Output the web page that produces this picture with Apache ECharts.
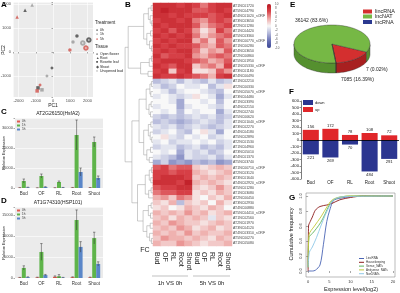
<!DOCTYPE html>
<html>
<head>
<meta charset="utf-8">
<script src="https://cdn.jsdelivr.net/npm/echarts@6/dist/echarts.min.js"></script>
<style>
html,body{margin:0;padding:0;background:#fff}
#main{width:400px;height:293px}
</style>
</head>
<body>
<div id="main"></div>
<script>
var FONT = 'Liberation Sans, Arial, sans-serif';

// ---- A: PCA ----
var pcaTissues = ['Open flower', 'Root', 'Rosette leaf', 'Shoot', 'Unopened bud'];
var pcaTreatments = ['0h', '1h', '5h'];
// [PC1, PC2, tissue index, treatment index]
var pcaPoints = [
  [-1620, 1750, 1, 0], [-1210, 1960, 1, 1], [-2080, 1460, 1, 2],
  [1390, 670, 0, 0], [1160, 420, 0, 1], [980, 80, 0, 2],
  [2080, 500, 4, 0], [1730, 375, 4, 1], [1910, 170, 4, 2],
  [-60, -670, 3, 0], [-350, -1000, 3, 1], [-750, -1375, 3, 2],
  [-870, -1500, 2, 0], [-640, -1580, 2, 1], [-920, -1625, 2, 2]
];

// ---- C / D: qPCR bars ----
var tissues = ['Bud', 'OF', 'RL', 'Root', 'Shoot'];
var treatments = ['0h', '1h', '5h'];
var hsfa2 = [[150, 100, 120, 200, 180], [3500, 6000, 3000, 26500, 23000], [300, 500, 200, 8000, 5000]];
var hsfa2Err = [[50, 40, 40, 80, 60], [1000, 1000, 500, 7500, 2500], [100, 150, 80, 2000, 1000]];
var hsp101 = [[100, 150, 300, 200, 150], [2400, 6200, 400, 13800, 9500], [200, 700, 100, 7400, 3350]];
var hsp101Err = [[40, 50, 200, 80, 60], [500, 2000, 400, 2400, 1400], [80, 150, 50, 1250, 500]];

// ---- B: heatmap ----
var hmColumns = ['Bud', 'OF', 'RL', 'Root', 'Shoot', 'Bud', 'OF', 'RL', 'Root', 'Shoot'];
var geneNames = ['AT1NC01720', 'AT5NC04790', 'AT4NC01020_sORF', 'AT3NC03650', 'AT2NC01280', 'AT1NC04420', 'AT5NC03360', 'AT3NC00770_sORF', 'AT1NC00280', 'AT4NC03650', 'AT2NC00860', 'AT5NC01950', 'AT1NC05330_sORF', 'AT3NC01180', 'AT4NC00490',
  'AT1NC02210', 'AT2NC00330', 'AT5NC05070_sORF', 'AT3NC04480', 'AT1NC03390', 'AT4NC02150', 'AT2NC02740', 'AT5NC00620', 'AT1NC01040_sORF', 'AT3NC02270', 'AT4NC04180', 'AT5NC02890', 'AT2NC01530', 'AT1NC04960', 'AT3NC05010', 'AT4NC01370', 'AT5NC03740',
  'AT1NC00710_sORF', 'AT2NC03120', 'AT3NC01640', 'AT4NC02920_sORF', 'AT5NC01280', 'AT1NC03080', 'AT2NC00450', 'AT3NC02930', 'AT4NC00880', 'AT5NC04410_sORF', 'AT1NC02560', 'AT2NC01970', 'AT3NC04120', 'AT4NC03310_sORF', 'AT5NC00270', 'AT1NC05080'];
var hmValues = [
  [8, 8, 8, 7, 8, 7, 5, 7, 8, 8],
  [8, 9, 8, 8, 8, 6, 6, 7, 8, 7],
  [8, 8, 7, 8, 7, 7, 7, 6, 7, 8],
  [7, 8, 8, 7, 8, 5, 4, 6, 7, 6],
  [8, 7, 8, 8, 8, 6, 3, 5, 6, 7],
  [7, 8, 6, 8, 7, 4, 1, 3, 7, 5],
  [8, 7, 8, 7, 8, 5, 2, 4, 5, 6],
  [7, 8, 7, 8, 8, 3, 5, 2, 6, 4],
  [8, 7, 8, 7, 7, 6, 4, 3, 6, 5],
  [7, 8, 7, 8, 8, 5, 2, 4, 3, 6],
  [8, 6, 7, 7, 8, 4, 3, 5, 6, 5],
  [7, 8, 8, 8, 7, 6, 5, 3, 4, 6],
  [8, 7, 6, 8, 8, 2, 4, 5, 3, 7],
  [7, 8, 2, 7, 8, 1, 1, 2, 6, 4],
  [8, 7, 7, 8, 7, 6, 5, 3, 7, 8],
  [-3, -2, -1, -3, -1, -2, -3, -1, -3, -2],
  [-1, -3, -2, 0, -1, -1, 0, -3, -1, 1],
  [0, -1, -3, -1, 0, 0, -1, -2, -3, 0],
  [-1, 0, -1, -2, -1, 1, 0, -1, -4, -1],
  [0, 0, -1, -4, 0, 0, -1, 0, -3, 0],
  [-1, 0, 0, -4, -1, 0, 0, -1, -2, 0],
  [0, -1, 0, -3, 0, -1, 0, 0, -4, -1],
  [-2, -3, -2, -3, -2, -1, -2, -1, -3, -2],
  [-3, -2, -3, -4, -3, -2, -1, -2, -3, -1],
  [-1, -2, -1, -3, -2, -1, -2, -3, -2, -1],
  [-2, -1, 0, -2, -3, 0, 1, -1, -4, 0],
  [0, 1, -1, -2, 0, -1, 0, -2, -1, 0],
  [-1, 0, -2, -1, -1, 0, -1, 0, -2, -1],
  [-2, -1, -1, -3, -2, -1, -3, -2, -3, -1],
  [0, -1, 0, -4, -1, -2, -1, -3, -2, 0],
  [-1, -2, -3, -5, -1, -2, -2, -1, -3, -1],
  [-4, -2, -5, -4, -5, -3, -4, -3, -5, -4],
  [6, 7, 5, 6, 6, 2, 1, 2, 3, 2],
  [7, 7, 6, 7, 7, 3, 2, 1, 2, 3],
  [7, 8, 8, 8, 7, 2, 3, 2, 3, 2],
  [8, 8, 8, 7, 9, 3, 2, 3, 2, 1],
  [6, 7, 7, 8, 8, 2, 1, 2, 4, 2],
  [5, 6, 6, 7, 7, 1, 2, 1, 3, 2],
  [3, 4, 2, 5, 4, 1, 0, 2, 1, 3],
  [2, 1, 3, -3, 2, 1, 2, 0, 3, 1],
  [1, 2, 0, 1, 3, 2, 1, 3, 2, 0],
  [3, 2, 3, 2, 4, 2, 3, 1, 2, 3],
  [2, 3, 1, 3, 2, 3, 2, -1, 2, 1],
  [3, 2, 4, 3, 2, 2, 1, 2, 3, 2],
  [2, 3, 2, 4, 3, 1, 2, 3, 1, 2],
  [3, 2, 3, 2, 4, 2, 3, 2, 2, 3],
  [2, 4, 3, 3, 2, 3, 2, 1, 3, 2],
  [3, 2, 2, 4, 3, 2, 1, 2, 2, 3]
];
// dendrogram: [height, left, right], leaves are row indices
var hmTree = [9,
  [8,
    [3, [1.5, [0.6, 0, 1], [0.9, 2, [0.4, 3, 4]]], [2, [0.8, 5, 6], [1.1, 7, [0.5, 8, 9]]]],
    [4, [1.2, [0.5, 10, 11], 12], [1.6, 13, 14]]],
  [6.8,
    [4.5, [2.2, [1, [0.5, 15, 16], [0.7, 17, 18]], [1.3, [0.6, 19, 20], [0.8, 21, 22]]],
      [3, [1.5, [0.7, 23, 24], [0.9, 25, [0.4, 26, 27]]], [2, [0.8, 28, 29], [1.2, 30, 31]]]],
    [5, [2.5, [1.2, [0.5, 32, 33], [0.7, 34, 35]], [1.4, [0.6, 36, 37], 38]],
      [3.2, [1.5, [0.6, 39, 40], [0.8, 41, 42]], [2, [0.9, 43, 44], [1.1, 45, [0.5, 46, 47]]]]]]
];

// ---- E: lncRNA classes ----
var rnaTypes = ['lincRNA', 'lncNAT', 'incRNA'];
var rnaCounts = [7085, 36142, 7];
var rnaPctText = ['16.39%', '83.6%', '0.02%'];

// ---- F: up / down ----
var upCounts = [156, 172, 78, 108, 72];
var downCounts = [221, 269, 70, 484, 291];

// ---- G: cumulative frequency ----
var cdfNames = ['LincRNA', 'Housekeeping', 'Sense_NATs', 'Antisense_NATs', 'Non-NATs'];
var cdfLinc = [[0, 0], [1, 0], [1.7, 0.01], [2.8, 0.08], [3.6, 0.35], [4.4, 0.66], [5.2, 0.83], [6, 0.94], [7.5, 0.97], [10, 0.99], [13, 1], [20, 1]];
var cdfHouse = [[0, 0], [0.1, 0.6], [0.5, 0.66], [1, 0.72], [1.7, 0.81], [2.8, 0.86], [4.4, 0.88], [5.6, 0.9], [7.5, 0.95], [10, 0.98], [13, 1], [20, 1]];
var cdfSense = [[0, 0.05], [0.2, 0.45], [1, 0.5], [2, 0.57], [3, 0.65], [4, 0.76], [5, 0.88], [6, 0.95], [8, 0.99], [10, 1], [20, 1]];
var cdfAnti = [[0, 0.05], [0.2, 0.48], [1.5, 0.6], [3, 0.72], [4.5, 0.86], [5.5, 0.94], [7, 0.98], [10, 1], [20, 1]];
var cdfNon = [[0, 0.05], [0.3, 0.25], [1, 0.32], [2, 0.45], [3, 0.6], [4, 0.74], [5, 0.86], [6, 0.95], [8, 0.99], [20, 1]];

var treatColors = ['#e15a50', '#5fb44a', '#5a86c8'];
var pcaColors = ['#444', '#999', '#d0504a'];
var pcaSymbols = ['circle', 'triangle', 'rect', 'diamond', 'emptyCircle'];
var rnaColors = ['#d42f2f', '#76b845', '#2b3990'];
var rnaSide = ['#a82020', '#55902f', '#1c2670'];
var cdfColors = ['#4a64b4', '#8b1a1a', '#5db35d', '#c2c83a', '#8ec8e8'];
var BAR_W = 4;

var axisTxt = { fontSize: 4, color: '#4d4d4d', fontFamily: FONT };

function noMinMax(step) {
  return function (v) { return Math.abs(v % step) < 1e-6 ? v : ''; };
}

// scatter series per tissue
var pcaSeries = pcaTissues.map(function (t, ti) {
  return {
    type: 'scatter', name: t, xAxisIndex: 0, yAxisIndex: 0,
    symbol: pcaSymbols[ti], symbolSize: 3.5,
    data: pcaPoints.filter(function (p) { return p[2] === ti; }).map(function (p) {
      return { value: [p[0], p[1]], itemStyle: { color: pcaColors[p[3]] } };
    })
  };
});

function barSeries(vals, axis) {
  return treatments.map(function (t, s) {
    return {
      type: 'bar', name: t, xAxisIndex: axis, yAxisIndex: axis,
      barWidth: BAR_W, barGap: '0%', data: vals[s],
      itemStyle: { color: treatColors[s] }
    };
  });
}

function errData(vals, errs) {
  var out = [];
  vals.forEach(function (row, s) {
    row.forEach(function (v, c) { out.push([c, v, errs[s][c], s]); });
  });
  return out;
}

function renderErr(params, api) {
  var c = api.value(0), v = api.value(1), e = api.value(2), s = api.value(3);
  var hi = api.coord([c, v + e]);
  var lo = api.coord([c, Math.max(0, v - e)]);
  var x = hi[0] + (s - 1) * BAR_W;
  var st = { stroke: '#333', lineWidth: 0.5 };
  return {
    type: 'group', children: [
      { type: 'line', shape: { x1: x, y1: hi[1], x2: x, y2: lo[1] }, style: st },
      { type: 'line', shape: { x1: x - 1.2, y1: hi[1], x2: x + 1.2, y2: hi[1] }, style: st }
    ]
  };
}

// heatmap cells
var hmData = [];
hmValues.forEach(function (row, r) {
  row.forEach(function (v, c) { hmData.push([c, r, v]); });
});

// dendrogram merges
var merges = [];
function walk(n) {
  if (typeof n === 'number') return { y: n, h: 0 };
  var a = walk(n[1]), b = walk(n[2]);
  merges.push([n[0], a.y, a.h, b.y, b.h]);
  return { y: (a.y + b.y) / 2, h: n[0] };
}
walk(hmTree);

// pie angles (clockwise from -25deg): lincRNA, incRNA, lncNAT
var pieOrder = [0, 2, 1];
var rnaTotal = rnaCounts.reduce(function (a, b) { return a + b; }, 0);
var sliceStart = [], sliceEnd = [];
var ang = -25 * Math.PI / 180;
pieOrder.forEach(function (i) {
  sliceStart[i] = ang;
  ang -= rnaCounts[i] / rnaTotal * Math.PI * 2;
  sliceEnd[i] = ang;
});

function renderPie(params, api) {
  var i = params.dataIndex;
  var cx = 332, cy = 44, rx = 38, ry = 19, dep = 10;
  var a0 = sliceStart[i], a1 = sliceEnd[i];
  var n = Math.max(2, Math.ceil((a0 - a1) / 0.04));
  function pt(a, dy) { return [cx + rx * Math.cos(a), cy - ry * Math.sin(a) + dy]; }
  var children = [];
  var run = [];
  function flush() {
    if (run.length > 1) {
      var pts = run.map(function (a) { return pt(a, 0); })
        .concat(run.slice().reverse().map(function (a) { return pt(a, dep); }));
      children.push({ type: 'polygon', shape: { points: pts }, style: { fill: rnaSide[i], stroke: '#333', lineWidth: 0.4 } });
    }
    run = [];
  }
  var top = [[cx, cy]];
  for (var k = 0; k <= n; k++) {
    var a = a0 + (a1 - a0) * k / n;
    top.push(pt(a, 0));
    if (Math.sin(a) < 0.001) run.push(a); else flush();
  }
  flush();
  children.push({ type: 'polygon', shape: { points: top }, style: { fill: rnaColors[i], stroke: '#333', lineWidth: 0.4 } });
  return { type: 'group', children: children };
}

function txt(x, y, s, size, opt) {
  opt = opt || {};
  return {
    type: 'text', x: x, y: y, rotation: opt.rot || 0, silent: true,
    style: {
      text: s, fill: opt.color || '#222',
      font: (opt.bold ? 'bold ' : '') + size + 'px ' + FONT,
      textAlign: opt.align || 'left', textVerticalAlign: opt.va || 'middle'
    }
  };
}

var graphics = [];
// panel letters
[['A', 1, 1], ['B', 125, 1], ['C', 1, 108], ['D', 1, 197], ['E', 290, 1], ['F', 289, 88], ['G', 289, 194]].forEach(function (l) {
  graphics.push(txt(l[1], l[2], l[0], 8, { bold: true, va: 'top', color: '#000' }));
});
// A labels + legend
graphics.push(txt(53, 106, 'PC1', 5, { align: 'center' }));
graphics.push(txt(4, 50, 'PC2', 5, { align: 'center', rot: Math.PI / 2 }));
graphics.push(txt(95, 23, 'Treatment', 4.5));
pcaTreatments.forEach(function (t, i) {
  graphics.push(txt(96, 30 + i * 4.5, '\u25CF', 3.5, { color: pcaColors[i] }));
  graphics.push(txt(100, 30 + i * 4.5, t, 3.5));
});
graphics.push(txt(95, 47, 'Tissue', 4.5));
var tissueGlyph = ['\u25CF', '\u25B2', '\u25A0', '\u25C6', '\u25CB'];
pcaTissues.forEach(function (t, i) {
  graphics.push(txt(96, 54 + i * 4.2, tissueGlyph[i], 3.5, { color: '#555' }));
  graphics.push(txt(100, 54 + i * 4.2, t, 3.5));
});
// C / D titles
graphics.push(txt(58, 114, 'AT2G26150(HsfA2)', 5, { align: 'center' }));
graphics.push(txt(58, 203, 'AT1G74310(HSP101)', 5, { align: 'center' }));
graphics.push(txt(4, 153, 'Relative Expression', 3.8, { align: 'center', rot: Math.PI / 2 }));
graphics.push(txt(4, 243, 'Relative Expression', 3.8, { align: 'center', rot: Math.PI / 2 }));
// B bottom
graphics.push(txt(145, 250, 'FC', 7, { align: 'center' }));
graphics.push({ type: 'line', shape: { x1: 152, y1: 276, x2: 188, y2: 276 }, style: { stroke: '#999', lineWidth: 0.6 } });
graphics.push({ type: 'line', shape: { x1: 193, y1: 276, x2: 230, y2: 276 }, style: { stroke: '#999', lineWidth: 0.6 } });
graphics.push(txt(170, 283, '1h VS 0h', 6, { align: 'center' }));
graphics.push(txt(212, 283, '5h VS 0h', 6, { align: 'center' }));
// E legend + labels
rnaTypes.forEach(function (t, i) {
  var y = [9.5, 14.5, 20][i];
  graphics.push({ type: 'rect', shape: { x: 363, y: y, width: 9, height: 4 }, style: { fill: rnaColors[i] } });
  graphics.push(txt(375, y + 2, t, 5.5));
});
graphics.push(txt(295, 21, rnaCounts[1] + ' (' + rnaPctText[1] + ')', 5));
graphics.push(txt(366, 70, rnaCounts[2] + ' (' + rnaPctText[2] + ')', 5));
graphics.push(txt(341, 80, rnaCounts[0] + ' (' + rnaPctText[0] + ')', 5));
// G axis names
graphics.push(txt(351, 289, 'Expression level(log2)', 5.5, { align: 'center' }));
graphics.push(txt(291, 234, 'Cumulative frequency', 5.5, { align: 'center', rot: Math.PI / 2 }));

var ggSplit = { show: true, lineStyle: { color: '#fff', width: 0.6 } };

var option = {
  animation: false,
  backgroundColor: '#fff',
  textStyle: { fontFamily: FONT },
  grid: [
    { left: 13, top: 2, width: 80, height: 95, show: true, backgroundColor: '#ebebeb', borderWidth: 0, outerBoundsMode: 'none' },
    { left: 15, top: 118, width: 88, height: 70, show: true, backgroundColor: '#ebebeb', borderWidth: 0, outerBoundsMode: 'none' },
    { left: 15, top: 207, width: 88, height: 71, show: true, backgroundColor: '#ebebeb', borderWidth: 0, outerBoundsMode: 'none' },
    { left: 153, top: 3, width: 79, height: 243, outerBoundsMode: 'none' },
    { left: 122, top: 3, width: 31, height: 243, outerBoundsMode: 'none' },
    { left: 271, top: 4, width: 1, height: 44, outerBoundsMode: 'none' },
    { left: 301, top: 101, width: 98, height: 78, outerBoundsMode: 'none' },
    { left: 306, top: 193, width: 89, height: 84, show: true, borderColor: '#777', borderWidth: 0.5, outerBoundsMode: 'none' }
  ],
  xAxis: [
    { gridIndex: 0, type: 'value', min: -2320, max: 2320, axisLine: { show: false }, axisTick: { length: 1.5, lineStyle: { color: '#555', width: 0.5 } },
      axisLabel: Object.assign({ formatter: noMinMax(1000), margin: 2 }, axisTxt), splitLine: ggSplit },
    { gridIndex: 1, type: 'category', data: tissues, axisLine: { show: false }, axisTick: { show: false },
      axisLabel: { fontSize: 4.5, color: '#333', margin: 3 } },
    { gridIndex: 2, type: 'category', data: tissues, axisLine: { show: false }, axisTick: { show: false },
      axisLabel: { fontSize: 4.5, color: '#333', margin: 3 } },
    { gridIndex: 3, type: 'category', data: hmColumns.map(function (c, i) { return c + '|' + i; }),
      axisLine: { show: false }, axisTick: { show: false },
      axisLabel: { rotate: -90, fontSize: 7, color: '#222', margin: 6, interval: 0, formatter: function (v) { return v.split('|')[0]; } } },
    { gridIndex: 4, type: 'value', min: 0, max: 10, inverse: true, show: false },
    { gridIndex: 5, type: 'value', show: false },
    { gridIndex: 6, type: 'category', data: tissues, axisLine: { show: false, onZero: false }, axisTick: { show: false },
      axisLabel: { fontSize: 4.5, color: '#222', margin: 1, interval: 0 } },
    { gridIndex: 7, type: 'value', min: -0.5, max: 20.5, splitLine: { show: false },
      axisLine: { show: false },
      axisTick: { customValues: [0, 5, 10, 15, 20], length: 2, lineStyle: { color: '#555', width: 0.5 } },
      axisLabel: { customValues: [0, 5, 10, 15, 20], fontSize: 4, color: '#333', margin: 3 } }
  ],
  yAxis: [
    { gridIndex: 0, type: 'value', min: -1880, max: 2090, axisLine: { show: false }, axisTick: { length: 1.5, lineStyle: { color: '#555', width: 0.5 } },
      axisLabel: Object.assign({ formatter: noMinMax(1000), margin: 2 }, axisTxt), splitLine: ggSplit },
    { gridIndex: 1, type: 'value', min: 0, max: 35000, interval: 10000, axisLine: { show: false }, axisTick: { show: true, length: 1.5, lineStyle: { color: '#555', width: 0.5 } },
      axisLabel: Object.assign({ formatter: noMinMax(10000), margin: 2 }, axisTxt), splitLine: ggSplit },
    { gridIndex: 2, type: 'value', min: 0, max: 16900, interval: 5000, axisLine: { show: false }, axisTick: { show: true, length: 1.5, lineStyle: { color: '#555', width: 0.5 } },
      axisLabel: Object.assign({ formatter: noMinMax(5000), margin: 2 }, axisTxt), splitLine: ggSplit },
    { gridIndex: 3, type: 'category', data: geneNames, inverse: true, position: 'right',
      axisLine: { show: false }, axisTick: { show: false },
      axisLabel: { fontSize: 3.5, color: '#444', margin: 1, interval: 0 } },
    { gridIndex: 4, type: 'value', min: -0.5, max: 47.5, inverse: true, show: false },
    { gridIndex: 5, type: 'value', min: -10, max: 10, interval: 2, position: 'right',
      axisLine: { show: false }, axisTick: { show: false }, splitLine: { show: false },
      axisLabel: { fontSize: 3, color: '#555', margin: 3 } },
    { gridIndex: 6, type: 'value', min: -600, max: 600, interval: 100,
      axisLine: { show: true, lineStyle: { color: '#222', width: 0.6 } },
      axisTick: { show: true, length: 1.5, lineStyle: { color: '#222', width: 0.5 } },
      splitLine: { show: false }, axisLabel: { fontSize: 4.2, color: '#222', margin: 2 } },
    { gridIndex: 7, type: 'value', min: -0.08, max: 1.04, splitLine: { show: false },
      axisLine: { show: false },
      axisTick: { customValues: [0, 0.2, 0.4, 0.6, 0.8, 1], length: 2, lineStyle: { color: '#555', width: 0.5 } },
      axisLabel: { customValues: [0, 0.2, 0.4, 0.6, 0.8, 1], rotate: 90, fontSize: 4, color: '#333', margin: 3,
        formatter: function (v) { return v.toFixed(1); } } }
  ],
  visualMap: [{
    type: 'continuous', min: -10, max: 10, seriesIndex: 5, calculable: false,
    left: 267, top: 4, itemWidth: 4, itemHeight: 44, padding: 0, text: null, showLabel: false,
    inRange: { color: ['#3a4696', '#6a73b5', '#b3b8da', '#f8f8f8', '#eeaaa8', '#d9444a', '#b8141e'] }
  }],
  legend: [
    { data: treatments, orient: 'vertical', left: 17, top: 120, itemWidth: 3, itemHeight: 2, itemGap: 1, padding: 0,
      icon: 'rect', textStyle: { fontSize: 3, color: '#333', padding: [0, 0, 0, -3] } },
    { data: treatments, orient: 'vertical', left: 17, top: 209, itemWidth: 3, itemHeight: 2, itemGap: 1, padding: 0,
      icon: 'rect', textStyle: { fontSize: 3, color: '#333', padding: [0, 0, 0, -3] } },
    { data: ['down', 'up'], orient: 'vertical', left: 303, top: 100, itemWidth: 10, itemHeight: 5, itemGap: 2, padding: 0,
      icon: 'rect', textStyle: { fontSize: 4, color: '#222', padding: [0, 0, 0, -3] } },
    { data: cdfNames, orient: 'vertical', left: 359, top: 257, itemWidth: 5, itemHeight: 1, itemGap: 0.8, padding: 0,
      icon: 'rect', textStyle: { fontSize: 3, color: '#333', padding: [0, 0, 0, -3] } }
  ],
  graphic: graphics,
  series: []
};

// series order matters for visualMap seriesIndex (heatmap = 5)
option.series = option.series
  .concat(pcaSeries)
  .concat([{ type: 'heatmap', xAxisIndex: 3, yAxisIndex: 3, data: hmData, itemStyle: { borderWidth: 0 } }])
  .concat(barSeries(hsfa2, 1))
  .concat(barSeries(hsp101, 2))
  .concat([
    { type: 'custom', xAxisIndex: 1, yAxisIndex: 1, data: errData(hsfa2, hsfa2Err), renderItem: renderErr, z: 5 },
    { type: 'custom', xAxisIndex: 2, yAxisIndex: 2, data: errData(hsp101, hsp101Err), renderItem: renderErr, z: 5 },
    { type: 'custom', xAxisIndex: 4, yAxisIndex: 4, data: merges,
      renderItem: function (params, api) {
        var h = api.value(0), ya = api.value(1), ha = api.value(2), yb = api.value(3), hb = api.value(4);
        return {
          type: 'polyline',
          shape: { points: [api.coord([ha, ya]), api.coord([h, ya]), api.coord([h, yb]), api.coord([hb, yb])] },
          style: { stroke: '#999', lineWidth: 0.5, fill: null }
        };
      } },
    { type: 'custom', coordinateSystem: 'none', data: rnaCounts, renderItem: renderPie },
    { type: 'bar', name: 'up', xAxisIndex: 6, yAxisIndex: 6, data: upCounts, barWidth: '82%', barGap: '-100%',
      itemStyle: { color: '#e0262a' },
      label: { show: true, position: 'top', fontSize: 4.2, color: '#222', distance: 1 } },
    { type: 'bar', name: 'down', xAxisIndex: 6, yAxisIndex: 6, data: downCounts.map(function (v) { return -v; }),
      barWidth: '82%', barGap: '-100%', itemStyle: { color: '#2b3590' },
      label: { show: true, position: 'bottom', fontSize: 4.2, color: '#222', distance: 1,
        formatter: function (p) { return Math.abs(p.value); } },
      markLine: { silent: true, symbol: 'none', label: { show: false },
        lineStyle: { color: '#000', width: 0.8, type: 'solid' }, data: [{ yAxis: 0 }] } }
  ])
  .concat([cdfLinc, cdfHouse, cdfSense, cdfAnti, cdfNon].map(function (d, i) {
    return { type: 'line', name: cdfNames[i], xAxisIndex: 7, yAxisIndex: 7, data: d, smooth: 0.3,
      showSymbol: false, lineStyle: { width: 0.9, color: cdfColors[i] }, itemStyle: { color: cdfColors[i] } };
  }));

var chart = echarts.init(document.getElementById('main'));
chart.setOption(option);
</script>
</body>
</html>
